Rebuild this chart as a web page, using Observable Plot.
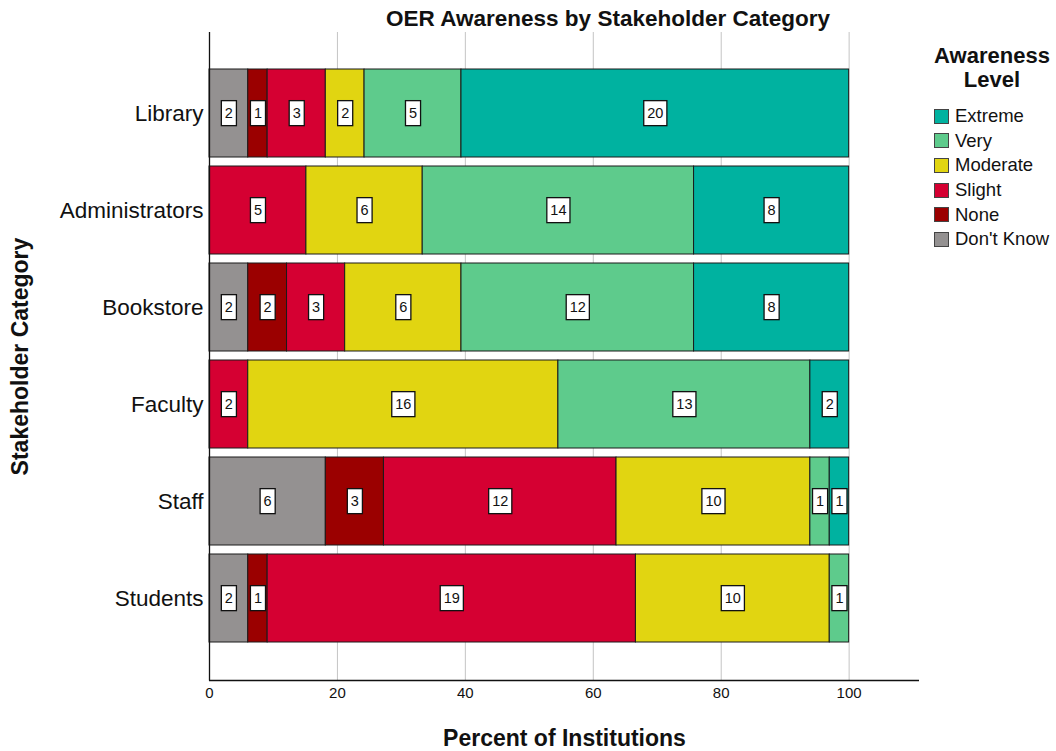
<!DOCTYPE html>
<html>
<head>
<meta charset="utf-8">
<script src="https://cdn.jsdelivr.net/npm/d3@7"></script>
<script src="https://cdn.jsdelivr.net/npm/@observablehq/plot@0.6"></script>
<style>
  html, body { margin: 0; padding: 0; background: #fff; }
  #wrap { position: relative; width: 1056px; height: 751px; font-family: "Liberation Sans", Arial, sans-serif; }
  #title { position: absolute; left: 608px; top: 5px; transform: translateX(-50%); font-weight: bold; font-size: 22.5px; line-height: 27px; white-space: nowrap; color: #111; }
  #legend { position: absolute; left: 928px; top: 44px; width: 128px; color: #111; }
  #legend .lt { text-align: center; font-weight: bold; font-size: 22px; line-height: 24px; }
  #legend .item { display: flex; align-items: center; height: 24.6px; font-size: 18.5px; white-space: nowrap; }
  #legend .sw { width: 13px; height: 13px; border: 1px solid #444; margin-right: 6px; margin-left: 6px; }
</style>
</head>
<body>
<div id="wrap">
  <div id="chart"></div>
  <div id="title">OER Awareness by Stakeholder Category</div>
  <div id="legend"></div>
</div>
<script>
const categories = ["Library", "Administrators", "Bookstore", "Faculty", "Staff", "Students"];
const levels = ["Don't Know", "None", "Slight", "Moderate", "Very", "Extreme"];
const legendOrder = ["Extreme", "Very", "Moderate", "Slight", "None", "Don't Know"];
const colors = ["#949191", "#9B0000", "#D50032", "#E1D511", "#5ECB8C", "#00B2A0"];
// counts per category, in order of levels
const dontKnow = [2, 0, 2, 0, 6, 2];
const none     = [1, 0, 2, 0, 3, 1];
const slight   = [3, 5, 3, 2, 12, 19];
const moderate = [2, 6, 6, 16, 10, 10];
const very     = [5, 14, 12, 13, 1, 1];
const extreme  = [20, 8, 8, 2, 1, 0];
const xTicks = [0, 20, 40, 60, 80, 100];

const series = [dontKnow, none, slight, moderate, very, extreme];
const data = [];
categories.forEach((c, i) => {
  const total = d3.sum(series, s => s[i]);
  levels.forEach((l, j) => {
    const n = series[j][i];
    if (n > 0) data.push({cat: c, level: l, count: n, pct: n / total * 100});
  });
});

const W = 1056, H = 751;
const plot = Plot.plot({
  width: W, height: H,
  marginLeft: 209, marginRight: 137, marginTop: 32, marginBottom: 71,
  style: {fontFamily: "Liberation Sans, Arial, sans-serif", background: "#fff", color: "#111"},
  x: {domain: [0, 111], ticks: xTicks},
  y: {domain: categories, paddingInner: 0.09, paddingOuter: 0.385},
  color: {domain: levels, range: colors},
  marks: [
    Plot.gridX(xTicks.slice(1), {stroke: "#c4c4c4", strokeOpacity: 1, strokeWidth: 1}),
    Plot.barX(data, Plot.stackX({x: "pct", y: "cat", z: "level", fill: "level", order: levels, stroke: "#1a1a1a", strokeWidth: 1})),
    Plot.text(data, Plot.stackX({x: "pct", y: "cat", z: "level", text: d => String(d.count), order: levels, fill: "#111", fontSize: 14.5, className: "vlabel"})),
    Plot.axisX({ticks: xTicks, tickSize: 0, tickPadding: 7, fontSize: 15, label: "Percent of Institutions", labelAnchor: "center", labelOffset: 65, labelArrow: "none"}),
    Plot.axisY({tickSize: 0, tickPadding: 6, fontSize: 22.5, label: "Stakeholder Category", labelAnchor: "center", labelOffset: 198, labelArrow: "none"})
  ]
});
document.getElementById("chart").appendChild(plot);

// frame lines: left axis and bottom axis
const svg = d3.select(plot);
svg.append("line").attr("x1", 209.5).attr("x2", 209.5).attr("y1", 32).attr("y2", 680.5).attr("stroke", "#111").attr("stroke-width", 1.3);
svg.append("line").attr("x1", 209).attr("x2", 919).attr("y1", 680.5).attr("y2", 680.5).attr("stroke", "#111").attr("stroke-width", 1.3);

// axis label styling
svg.selectAll("g[aria-label='x-axis label'] text, g[aria-label='y-axis label'] text")
  .style("font-size", "23px").style("font-weight", "bold");

// boxes behind value labels
svg.selectAll("g.vlabel text").each(function() {
  const b = this.getBBox();
  const w = b.width + 7, h = 25;
  const cx = b.x + b.width / 2, cy = b.y + b.height / 2;
  const r = d3.select(this.parentNode).insert("rect", () => this)
    .attr("x", cx - w / 2).attr("y", cy - h / 2).attr("width", w).attr("height", h)
    .attr("fill", "#fff").attr("stroke", "#111").attr("stroke-width", 1.3);
  const t = this.getAttribute("transform");
  if (t) r.attr("transform", t);
});

// legend
const lg = d3.select("#legend");
lg.append("div").attr("class", "lt").html("Awareness<br>Level");
lg.append("div").style("height", "12px");
legendOrder.forEach(l => {
  const it = lg.append("div").attr("class", "item");
  it.append("div").attr("class", "sw").style("background", colors[levels.indexOf(l)]);
  it.append("span").text(l);
});
</script>
</body>
</html>
